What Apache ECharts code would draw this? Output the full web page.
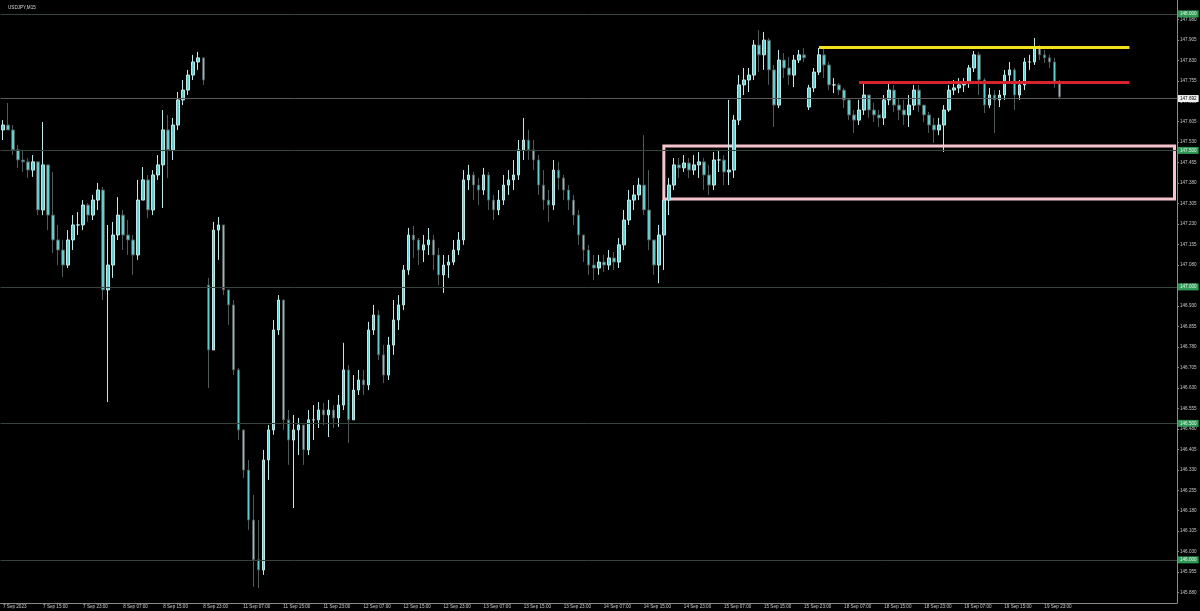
<!DOCTYPE html>
<html>
<head>
<meta charset="utf-8">
<title>USDJPY,M15</title>
<script src="https://cdn.jsdelivr.net/npm/echarts@6/dist/echarts.min.js"></script>
<style>
  html, body { margin: 0; padding: 0; background: #000; }
  #chart { width: 1200px; height: 611px; }
</style>
</head>
<body>
<div id="chart"></div>
<script>
// trading sessions shown on the axis: [day, first hour, last hour]
const sessions = [
  ['7 Sep', 7, 23], ['8 Sep', 0, 23], ['11 Sep', 0, 23], ['12 Sep', 0, 23],
  ['13 Sep', 0, 23], ['14 Sep', 0, 23], ['15 Sep', 0, 23], ['18 Sep', 0, 23],
  ['19 Sep', 0, 23], ['20 Sep', 0, 23], ['21 Sep', 0, 1]
]

// hourly candles
const closes = [
  147.593, 147.575, 147.502, 147.465, 147.458, 147.428, 147.458, 147.282, 147.447, 147.263,
  147.172, 147.135, 147.080, 147.172, 147.227, 147.227, 147.300, 147.263, 147.318, 147.355,
  146.989, 147.080, 147.190, 147.263, 147.190, 147.172, 147.117, 147.318, 147.392, 147.282,
  147.410, 147.447, 147.575, 147.502, 147.593, 147.685, 147.721, 147.776, 147.824, 147.839,
  147.758, 146.769, 147.208, 147.227, 146.989, 146.934, 146.696, 146.476, 146.329, 146.146,
  146.000, 145.963, 146.366, 146.476, 146.842, 146.952, 146.513, 146.439, 146.476, 146.494,
  146.403, 146.513, 146.513, 146.549, 146.531, 146.549, 146.520, 146.567, 146.696, 146.513,
  146.622, 146.659, 146.641, 146.842, 146.897, 146.751, 146.677, 146.787, 146.879, 146.934,
  147.062, 147.190, 147.172, 147.135, 147.154, 147.172, 147.117, 147.044, 147.080, 147.091,
  147.135, 147.172, 147.392, 147.410, 147.373, 147.355, 147.410, 147.318, 147.282, 147.318,
  147.373, 147.392, 147.410, 147.502, 147.538, 147.502, 147.465, 147.373, 147.318, 147.300,
  147.428, 147.399, 147.355, 147.318, 147.263, 147.190, 147.135, 147.080, 147.069, 147.091,
  147.080, 147.106, 147.091, 147.154, 147.245, 147.318, 147.337, 147.373, 147.282, 147.172,
  147.080, 147.190, 147.318, 147.373, 147.447, 147.436, 147.454, 147.428, 147.447, 147.458,
  147.410, 147.373, 147.465, 147.465, 147.421, 147.428, 147.611, 147.740, 147.758, 147.776,
  147.886, 147.850, 147.904, 147.795, 147.666, 147.831, 147.802, 147.776, 147.831, 147.850,
  147.839, 147.729, 147.787, 147.850, 147.813, 147.740, 147.740, 147.721, 147.685, 147.630,
  147.611, 147.648, 147.703, 147.648, 147.630, 147.619, 147.685, 147.721, 147.666, 147.648,
  147.630, 147.666, 147.721, 147.666, 147.630, 147.593, 147.575, 147.593, 147.648, 147.721,
  147.729, 147.740, 147.751, 147.802, 147.850, 147.758, 147.666, 147.703, 147.685, 147.703,
  147.776, 147.795, 147.703, 147.740, 147.824, 147.824, 147.879, 147.850, 147.839, 147.824,
  147.751, 147.696
]
const highs = [
  147.611, 147.674, 147.593, 147.520, 147.502, 147.472, 147.483, 147.373, 147.604, 147.447,
  147.421, 147.227, 147.172, 147.208, 147.263, 147.274, 147.318, 147.307, 147.337, 147.381,
  147.366, 147.227, 147.238, 147.329, 147.282, 147.245, 147.190, 147.392, 147.439, 147.410,
  147.428, 147.483, 147.648, 147.630, 147.619, 147.714, 147.758, 147.795, 147.850, 147.861,
  147.839, 147.033, 147.238, 147.256, 147.227, 146.989, 146.952, 146.703, 146.476, 146.366,
  146.238, 146.146, 146.403, 146.494, 146.879, 146.970, 146.952, 146.549, 146.531, 146.520,
  146.476, 146.549, 146.567, 146.578, 146.575, 146.586, 146.567, 146.604, 146.795, 146.714,
  146.677, 146.696, 146.696, 146.872, 146.934, 146.915, 146.787, 146.817, 146.952, 146.970,
  147.080, 147.216, 147.223, 147.179, 147.190, 147.216, 147.190, 147.143, 147.117, 147.117,
  147.172, 147.201, 147.428, 147.447, 147.421, 147.399, 147.436, 147.421, 147.337, 147.355,
  147.410, 147.428, 147.465, 147.538, 147.619, 147.575, 147.538, 147.483, 147.428, 147.355,
  147.465, 147.458, 147.410, 147.373, 147.337, 147.282, 147.190, 147.154, 147.117, 147.117,
  147.117, 147.135, 147.128, 147.179, 147.282, 147.355, 147.373, 147.399, 147.556, 147.428,
  147.172, 147.227, 147.355, 147.399, 147.472, 147.472, 147.483, 147.472, 147.483, 147.494,
  147.472, 147.447, 147.494, 147.502, 147.483, 147.685, 147.630, 147.776, 147.802, 147.802,
  147.904, 147.941, 147.934, 147.912, 147.813, 147.868, 147.857, 147.842, 147.850, 147.868,
  147.875, 147.740, 147.802, 147.875, 147.875, 147.824, 147.765, 147.747, 147.729, 147.692,
  147.648, 147.685, 147.747, 147.703, 147.674, 147.648, 147.703, 147.747, 147.740, 147.692,
  147.685, 147.703, 147.740, 147.740, 147.666, 147.641, 147.619, 147.619, 147.666, 147.740,
  147.758, 147.765, 147.765, 147.813, 147.864, 147.861, 147.765, 147.729, 147.721, 147.721,
  147.795, 147.824, 147.802, 147.758, 147.839, 147.850, 147.912, 147.886, 147.868, 147.850,
  147.839, 147.758
]
const lows = [
  147.538, 147.575, 147.483, 147.436, 147.421, 147.399, 147.403, 147.263, 147.263, 147.208,
  147.124, 147.080, 147.036, 147.069, 147.135, 147.190, 147.208, 147.238, 147.245, 147.282,
  146.952, 146.578, 147.033, 147.172, 147.135, 147.117, 147.044, 147.099, 147.318, 147.252,
  147.263, 147.392, 147.289, 147.399, 147.465, 147.575, 147.666, 147.703, 147.758, 147.795,
  147.740, 146.630, 146.769, 147.099, 146.970, 146.861, 146.677, 146.439, 146.300, 146.110,
  145.901, 145.897, 145.945, 146.293, 146.458, 146.824, 146.476, 146.348, 146.190, 146.384,
  146.348, 146.384, 146.439, 146.483, 146.494, 146.450, 146.483, 146.487, 146.549, 146.428,
  146.531, 146.604, 146.604, 146.622, 146.824, 146.732, 146.648, 146.659, 146.751, 146.842,
  146.915, 147.044, 147.106, 147.080, 147.091, 147.117, 147.062, 147.007, 146.978, 147.033,
  147.080, 147.117, 147.154, 147.355, 147.318, 147.300, 147.337, 147.282, 147.245, 147.263,
  147.300, 147.337, 147.355, 147.392, 147.465, 147.465, 147.428, 147.337, 147.282, 147.238,
  147.282, 147.355, 147.318, 147.282, 147.227, 147.154, 147.091, 147.044, 147.025, 147.044,
  147.055, 147.062, 147.062, 147.069, 147.135, 147.227, 147.282, 147.318, 147.263, 147.135,
  147.044, 147.014, 147.062, 147.263, 147.355, 147.399, 147.421, 147.399, 147.410, 147.399,
  147.355, 147.337, 147.355, 147.421, 147.373, 147.373, 147.399, 147.593, 147.703, 147.714,
  147.758, 147.787, 147.795, 147.740, 147.586, 147.655, 147.765, 147.740, 147.732, 147.820,
  147.824, 147.648, 147.714, 147.776, 147.765, 147.721, 147.710, 147.703, 147.655, 147.611,
  147.564, 147.593, 147.630, 147.619, 147.604, 147.586, 147.593, 147.666, 147.641, 147.611,
  147.593, 147.586, 147.648, 147.641, 147.604, 147.564, 147.527, 147.556, 147.494, 147.641,
  147.703, 147.710, 147.714, 147.729, 147.787, 147.703, 147.637, 147.655, 147.564, 147.659,
  147.685, 147.751, 147.648, 147.685, 147.721, 147.795, 147.813, 147.831, 147.820, 147.802,
  147.729, 147.692
]
// opens that do not follow the previous close (chart start, weekend gaps)
const gapOpens = { 0: 147.575, 41: 147.007, 161: 147.659 }

const yTicks = [
  145.880, 145.955, 146.030, 146.105, 146.180, 146.255, 146.330, 146.405, 146.480, 146.555,
  146.630, 146.705, 146.780, 146.855, 146.930, 147.005, 147.080, 147.155, 147.230, 147.305,
  147.380, 147.455, 147.530, 147.605, 147.680, 147.755, 147.830, 147.905, 147.980
]
const roundLevels = [148.000, 147.500, 147.000, 146.500, 146.000]
const bidPrice = 147.692
const resistance = 147.877   // yellow line
const pivot = 147.749        // red line
const boxTop = 147.516
const boxBottom = 147.322

const categories = []
sessions.forEach(([day, h0, h1]) => {
  for (let h = h0; h <= h1; h++) {
    categories.push(day + ' ' + String(h).padStart(2, '0') + ':00')
  }
})

const candles = closes.map((c, i) => {
  const o = gapOpens[i] !== undefined ? gapOpens[i] : closes[i - 1]
  const lo = Math.min(lows[i], o, c)
  const hi = Math.max(highs[i], o, c)
  return [o, c, lo, hi]
})
const lastBar = closes.length - 1

const chart = echarts.init(document.getElementById('chart'))
const font = 'Liberation Sans'
const small = 4.6

chart.setOption({
  backgroundColor: '#000',
  animation: false,
  title: {
    text: 'USDJPY,M15',
    left: 3,
    top: 0,
    textStyle: { color: '#d8d8d8', fontSize: small, fontWeight: 'normal', fontFamily: font }
  },
  grid: { left: 0, right: 23, top: 0, bottom: 8, containLabel: false },
  xAxis: {
    type: 'category',
    data: categories,
    boundaryGap: true,
    axisLine: { lineStyle: { color: '#8a8a8a', width: 1 } },
    axisTick: {
      alignWithLabel: true,
      length: 3,
      lineStyle: { color: '#8a8a8a' },
      interval: (i) => i % 8 === 0 && i <= lastBar
    },
    axisLabel: {
      interval: (i) => i % 8 === 0 && i <= lastBar,
      hideOverlap: false,
      showMinLabel: true,
      showMaxLabel: true,
      color: '#c8c8c8',
      fontSize: small,
      fontFamily: font,
      align: 'left',
      margin: 1,
      formatter: (v, i) => (i === 0 ? '7 Sep 2023' : v)
    },
    splitLine: { show: false }
  },
  yAxis: {
    type: 'value',
    position: 'right',
    min: 145.842,
    max: 148.051,
    splitLine: { show: false },
    axisLine: { show: true, lineStyle: { color: '#8a8a8a', width: 1 } },
    axisTick: { show: true, length: 2, customValues: yTicks, lineStyle: { color: '#8a8a8a' } },
    axisLabel: {
      customValues: yTicks,
      color: '#c8c8c8',
      fontSize: small,
      fontFamily: font,
      margin: 3,
      formatter: (v) => v.toFixed(3)
    }
  },
  series: [{
    type: 'candlestick',
    data: candles,
    barWidth: 3,
    clip: false,
    itemStyle: {
      color: '#5fcfcf',
      color0: '#5fcfcf',
      borderColor: '#bfe9e9',
      borderColor0: '#4f5a5a',
      borderWidth: 1
    },
    markLine: {
      symbol: 'none',
      silent: true,
      animation: false,
      data: [
        ...roundLevels.map((v) => ({
          yAxis: v,
          lineStyle: { color: '#34463c', width: 1, type: 'solid' },
          label: {
            position: 'end',
            distance: 1,
            formatter: v.toFixed(3),
            color: '#e8f5ea',
            backgroundColor: '#2f9a55',
            fontSize: small,
            fontFamily: font,
            padding: [1, 2]
          }
        })),
        {
          yAxis: bidPrice,
          lineStyle: { color: '#5a5a5a', width: 1, type: 'solid' },
          label: {
            position: 'end',
            distance: 1,
            formatter: bidPrice.toFixed(3),
            color: '#000',
            backgroundColor: '#f2f2f2',
            fontSize: small,
            fontFamily: font,
            padding: [1, 2]
          }
        },
        [
          { coord: [categories[163], resistance], lineStyle: { color: '#f2e21c', width: 3, type: 'solid' }, label: { show: false } },
          { coord: [categories[225], resistance] }
        ],
        [
          { coord: [categories[171], pivot], lineStyle: { color: '#d8222e', width: 3, type: 'solid' }, label: { show: false } },
          { coord: [categories[225], pivot] }
        ]
      ]
    },
    markArea: {
      silent: true,
      itemStyle: { color: 'rgba(0,0,0,0)', borderColor: '#f4c3cc', borderWidth: 3 },
      data: [[
        { coord: [categories[132], boxTop] },
        { coord: [categories[234], boxBottom] }
      ]]
    }
  }]
})
</script>
</body>
</html>
